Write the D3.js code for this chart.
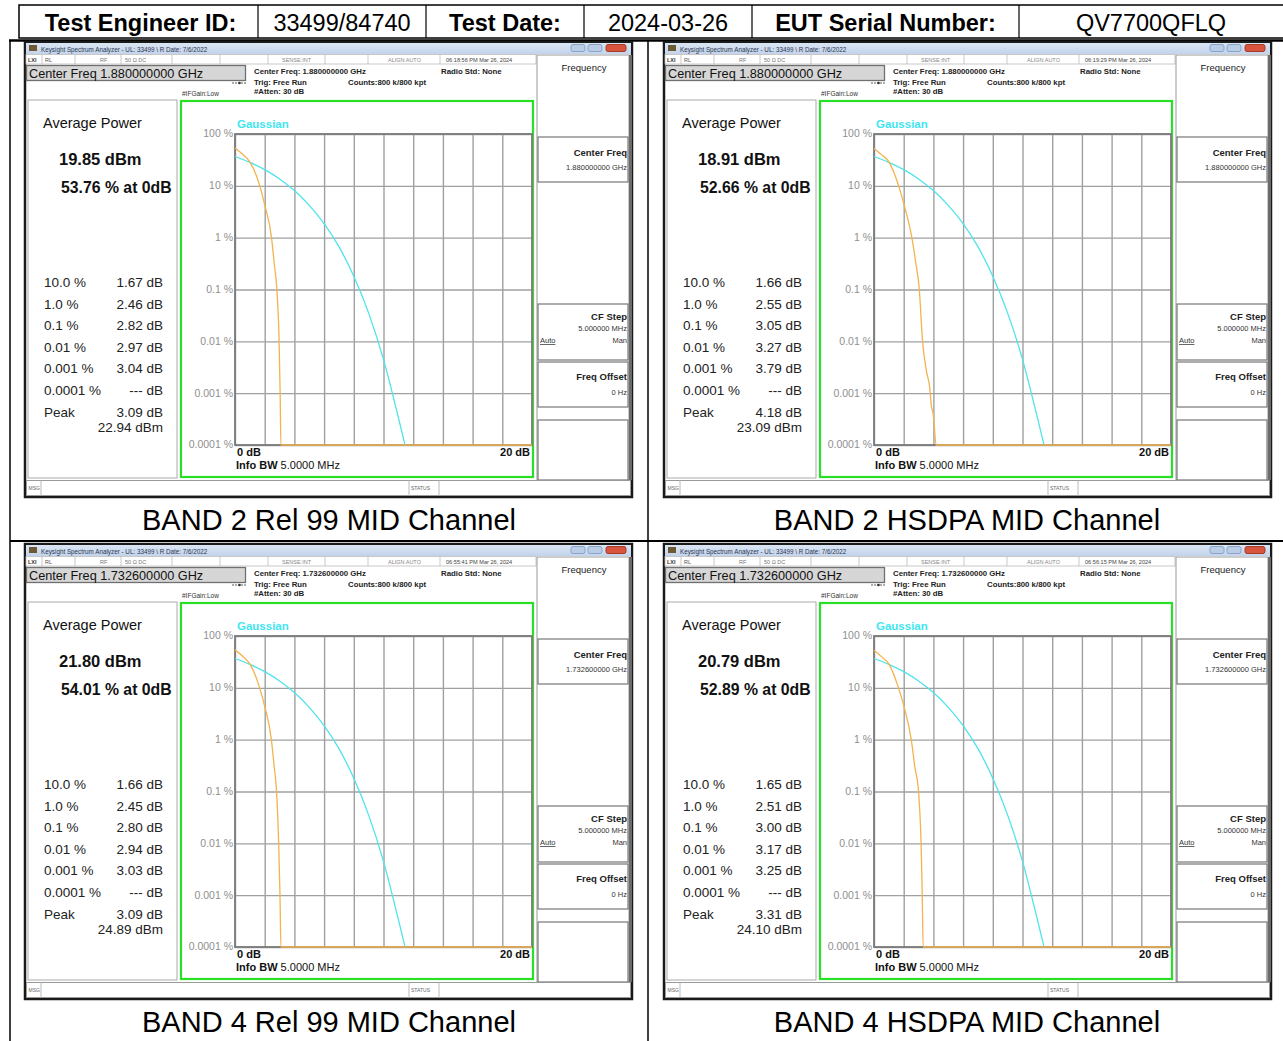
<!DOCTYPE html>
<meta charset="utf-8">

<!-- Load d3.js -->
<script src="https://d3js.org/d3.v7.min.js"></script>

<style>
body { margin: 0; background: #fff; }
svg text { font-family: Arial, "Liberation Sans", sans-serif; }
</style>

<div id="ccdf_report"></div>

<script>
// ---- data ----
var headerCells = ["Test Engineer ID:", "33499/84740", "Test Date:", "2024-03-26", "EUT Serial Number:", "QV7700QFLQ"];
var headerBold = [true, false, true, false, true, false];

var panelTitles = ["BAND 2 Rel 99 MID Channel", "BAND 2 HSDPA MID Channel", "BAND 4 Rel 99 MID Channel", "BAND 4 HSDPA MID Channel"];
var centerFreqs = ["1.880000000 GHz", "1.880000000 GHz", "1.732600000 GHz", "1.732600000 GHz"];
var timeStamps = ["06:18:56 PM Mar 26, 2024", "06:19:29 PM Mar 26, 2024", "06:55:41 PM Mar 26, 2024", "06:56:15 PM Mar 26, 2024"];
var avgPowerDbm = ["19.85", "18.91", "21.80", "20.79"];
var pctAt0dB = ["53.76", "52.66", "54.01", "52.89"];
var peakDb = ["3.09", "4.18", "3.09", "3.31"];
var peakDbm = ["22.94", "23.09", "24.89", "24.10"];

var probLabels = ["10.0 %", "1.0 %", "0.1 %", "0.01 %", "0.001 %", "0.0001 %"];
var probValues = [
  ["1.67", "2.46", "2.82", "2.97", "3.04", "---"],
  ["1.66", "2.55", "3.05", "3.27", "3.79", "---"],
  ["1.66", "2.45", "2.80", "2.94", "3.03", "---"],
  ["1.65", "2.51", "3.00", "3.17", "3.25", "---"]
];

var xTicks = [0, 2, 4, 6, 8, 10, 12, 14, 16, 18, 20];
var yTicks = [100, 10, 1, 0.1, 0.01, 0.001, 0.0001];
var yTickLabels = ["100 %", "10 %", "1 %", "0.1 %", "0.01 %", "0.001 %", "0.0001 %"];

// Gaussian reference trace (cyan): dB above average power, probability %
var gaussDb  = [0, 1, 2, 3, 4, 5, 6, 7, 8, 9, 10, 11, 11.45];
var gaussPct = [36.8, 28.4, 20.5, 13.6, 8.1, 4.2, 1.87, 0.67, 0.18, 0.035, 0.0045, 0.00034, 0.0001];

// measured CCDF traces (orange), one per panel
var traceDb = [
  [0, 0.5, 1.0, 1.67, 2.0, 2.46, 2.65, 2.82, 2.97, 3.04, 3.09, 20],
  [0, 0.5, 1.0, 1.66, 2.0, 2.55, 2.8, 3.05, 3.27, 3.5, 3.79, 3.85, 3.98, 4.05, 4.18, 20],
  [0, 0.5, 1.0, 1.66, 2.0, 2.45, 2.64, 2.80, 2.94, 3.03, 3.09, 20],
  [0, 0.5, 1.0, 1.65, 2.0, 2.51, 2.75, 3.00, 3.17, 3.25, 3.31, 20]
];
var tracePct = [
  [53.76, 41, 29, 10, 4.3, 1, 0.3, 0.1, 0.01, 0.001, 0.0001, 0.0001],
  [52.66, 40, 29, 10, 4.6, 1, 0.35, 0.1, 0.01, 0.003, 0.001, 0.0006, 0.0004, 0.00025, 0.0001, 0.0001],
  [54.01, 41, 29, 10, 4.4, 1, 0.3, 0.1, 0.01, 0.001, 0.0001, 0.0001],
  [52.89, 40, 29, 10, 4.6, 1, 0.3, 0.1, 0.01, 0.001, 0.0001, 0.0001]
];

// ---- layout ----
var W = 1283, H = 1041;
var svg = d3.select("#ccdf_report").append("svg")
    .attr("width", W)
    .attr("height", H);

var defs = svg.append("defs");
var grad = defs.append("linearGradient").attr("id", "titleGrad")
    .attr("x1", 0).attr("x2", 0).attr("y1", 0).attr("y2", 1);
grad.append("stop").attr("offset", "0%").attr("stop-color", "#dbe6f4");
grad.append("stop").attr("offset", "100%").attr("stop-color", "#c3d3ea");

// header row
var colX = [19, 258, 426, 584, 752, 1019, 1283];
svg.append("rect")
    .attr("x", 19).attr("y", 5).attr("width", 1270).attr("height", 33)
    .attr("fill", "none").attr("stroke", "#000").attr("stroke-width", 1.5);
svg.selectAll(".hdiv").data(colX.slice(1, 6)).enter().append("line")
    .attr("x1", d => d).attr("x2", d => d).attr("y1", 5).attr("y2", 38)
    .attr("stroke", "#000").attr("stroke-width", 1.2);
svg.selectAll(".htext").data(headerCells).enter().append("text")
    .attr("x", (d, i) => (colX[i] + colX[i + 1]) / 2 + (i == 0 ? 2 : 0))
    .attr("y", 31)
    .attr("text-anchor", "middle")
    .attr("font-size", 23.5)
    .attr("font-weight", (d, i) => headerBold[i] ? "bold" : "normal")
    .text(d => d);

// body table lines
svg.append("line").attr("x1", 9).attr("x2", W).attr("y1", 40.5).attr("y2", 40.5)
    .attr("stroke", "#000").attr("stroke-width", 2.5);
svg.append("line").attr("x1", 10).attr("x2", 10).attr("y1", 40).attr("y2", H)
    .attr("stroke", "#000").attr("stroke-width", 1.5);
svg.append("line").attr("x1", 648).attr("x2", 648).attr("y1", 40).attr("y2", H)
    .attr("stroke", "#000").attr("stroke-width", 1.5);
svg.append("line").attr("x1", 10).attr("x2", W).attr("y1", 541).attr("y2", 541)
    .attr("stroke", "#000").attr("stroke-width", 2);

var panelPos = [[25, 42], [664, 42], [25, 544], [664, 544]];
var captionPos = [[329, 530], [967, 530], [329, 1032], [967, 1032]];

svg.selectAll(".caption").data(panelTitles).enter().append("text")
    .attr("x", (d, i) => captionPos[i][0])
    .attr("y", (d, i) => captionPos[i][1])
    .attr("text-anchor", "middle")
    .attr("font-size", 29)
    .text(d => d);

panelTitles.forEach(function(t, i) { drawPanel(i); });

function txt(g, x, y, s, size, opts) {
  opts = opts || {};
  return g.append("text")
    .attr("x", x).attr("y", y)
    .attr("font-size", size)
    .attr("font-weight", opts.bold ? "bold" : "normal")
    .attr("text-anchor", opts.anchor || "start")
    .attr("fill", opts.fill || "#111")
    .text(s);
}

function drawPanel(i) {
  var g = svg.append("g")
      .attr("transform", "translate(" + panelPos[i][0] + "," + panelPos[i][1] + ")");

  // window frame
  g.append("rect").attr("x", 0).attr("y", 0).attr("width", 607).attr("height", 455)
      .attr("fill", "#fff").attr("stroke", "#1a1a1a").attr("stroke-width", 2.5);

  // title bar
  g.append("rect").attr("x", 1).attr("y", 1).attr("width", 605).attr("height", 11)
      .attr("fill", "url(#titleGrad)");
  g.append("rect").attr("x", 4).attr("y", 3).attr("width", 8).attr("height", 6).attr("fill", "#6d5a34");
  txt(g, 16, 9.5, "Keysight Spectrum Analyzer - UL: 33499 \\ R Date: 7/6/2022", 6.3, {fill: "#2a3550"});
  g.append("rect").attr("x", 546).attr("y", 2.5).attr("width", 14).attr("height", 7).attr("rx", 2)
      .attr("fill", "#b9cde6").attr("stroke", "#8aa3c6");
  g.append("rect").attr("x", 563).attr("y", 2.5).attr("width", 14).attr("height", 7).attr("rx", 2)
      .attr("fill", "#b9cde6").attr("stroke", "#8aa3c6");
  g.append("rect").attr("x", 581).attr("y", 2.5).attr("width", 20).attr("height", 7).attr("rx", 2)
      .attr("fill", "#d8543c").attr("stroke", "#a33a2a");

  // status row
  g.append("rect").attr("x", 1).attr("y", 12.5).attr("width", 510).attr("height", 9.5)
      .attr("fill", "#fff").attr("stroke", "#bbb").attr("stroke-width", 0.8);
  var seps = [17, 50, 96, 147, 195, 243, 300, 343, 415];
  g.selectAll(".sep").data(seps).enter().append("line")
      .attr("x1", d => d).attr("x2", d => d).attr("y1", 12.5).attr("y2", 22)
      .attr("stroke", "#bbb").attr("stroke-width", 0.8);
  txt(g, 3, 20, "LXI", 5.5, {bold: true, fill: "#333"});
  txt(g, 20, 20, "RL", 5.5, {fill: "#555"});
  txt(g, 75, 20, "RF", 5.5, {fill: "#777"});
  txt(g, 100, 20, "50 \u03A9   DC", 5.5, {fill: "#777"});
  txt(g, 257, 20, "SENSE:INT", 5.5, {fill: "#888"});
  txt(g, 363, 20, "ALIGN AUTO", 5.5, {fill: "#888"});
  txt(g, 421, 20, timeStamps[i], 5.6, {fill: "#444"});

  // center freq box and settings
  g.append("rect").attr("x", 1.5).attr("y", 23.5).attr("width", 219).attr("height", 15)
      .attr("fill", "#d6d6d6").attr("stroke", "#707070").attr("stroke-width", 1.3);
  txt(g, 4, 35.5, "Center Freq " + centerFreqs[i], 12.7, {fill: "#111"});
  txt(g, 229, 32, "Center Freq: " + centerFreqs[i], 7.8, {bold: true, fill: "#222"});
  txt(g, 229, 42.5, "Trig: Free Run", 7.8, {bold: true, fill: "#222"});
  txt(g, 229, 51.5, "#Atten: 30 dB", 7.8, {bold: true, fill: "#222"});
  txt(g, 323, 42.5, "Counts:800 k/800 kpt", 7.8, {bold: true, fill: "#222"});
  txt(g, 416, 32, "Radio Std: None", 7.8, {bold: true, fill: "#222"});
  txt(g, 157, 54, "#IFGain:Low", 6.5, {fill: "#333"});
  g.append("line").attr("x1", 207).attr("x2", 222).attr("y1", 41).attr("y2", 41)
      .attr("stroke", "#333").attr("stroke-width", 0.8).attr("stroke-dasharray", "2,1");
  g.append("circle").attr("cx", 214.5).attr("cy", 41).attr("r", 1.3).attr("fill", "#333");

  // left result box
  g.append("rect").attr("x", 3).attr("y", 58).attr("width", 149).attr("height", 378)
      .attr("fill", "#fff").attr("stroke", "#aaa").attr("stroke-width", 1);
  txt(g, 18, 86, "Average Power", 14.5, {fill: "#111"});
  txt(g, 34, 123, avgPowerDbm[i] + " dBm", 16.5, {bold: true});
  txt(g, 36, 151, pctAt0dB[i] + " % at 0dB", 15.8, {bold: true});
  probLabels.forEach(function(lab, k) {
    txt(g, 19, 245 + 21.6 * k, lab, 13.5, {fill: "#222"});
    txt(g, 138, 245 + 21.6 * k, probValues[i][k] + " dB", 13.5, {anchor: "end", fill: "#222"});
  });
  txt(g, 19, 374.5, "Peak", 13.5, {fill: "#222"});
  txt(g, 138, 374.5, peakDb[i] + " dB", 13.5, {anchor: "end", fill: "#222"});
  txt(g, 138, 390, peakDbm[i] + " dBm", 13.5, {anchor: "end", fill: "#222"});

  // softkey panel
  g.append("rect").attr("x", 512).attr("y", 13).attr("width", 92).attr("height", 425)
      .attr("fill", "#fff").attr("stroke", "#999").attr("stroke-width", 1);
  g.append("line").attr("x1", 605.5).attr("x2", 605.5).attr("y1", 13).attr("y2", 438)
      .attr("stroke", "#6b6b6b").attr("stroke-width", 3);
  txt(g, 559, 29, "Frequency", 9.5, {anchor: "middle", fill: "#222"});
  var keyBoxes = [[95, 45], [262, 56], [320, 45], [378, 60]];
  keyBoxes.forEach(function(b) {
    g.append("rect").attr("x", 513).attr("y", b[0]).attr("width", 90).attr("height", b[1])
        .attr("fill", "#fff").attr("stroke", "#777").attr("stroke-width", 1.2);
  });
  txt(g, 602, 114, "Center Freq", 9.5, {bold: true, anchor: "end", fill: "#222"});
  txt(g, 602, 128, centerFreqs[i], 7.5, {anchor: "end", fill: "#333"});
  txt(g, 602, 278, "CF Step", 9.5, {bold: true, anchor: "end", fill: "#222"});
  txt(g, 602, 289, "5.000000 MHz", 7.5, {anchor: "end", fill: "#333"});
  txt(g, 515, 301, "Auto", 7.5, {fill: "#333"}).attr("text-decoration", "underline");
  txt(g, 602, 301, "Man", 7.5, {anchor: "end", fill: "#333"});
  txt(g, 602, 338, "Freq Offset", 9.5, {bold: true, anchor: "end", fill: "#222"});
  txt(g, 602, 353, "0 Hz", 7.5, {anchor: "end", fill: "#333"});

  // MSG / STATUS bar
  g.append("rect").attr("x", 1.5).attr("y", 438.5).attr("width", 604).attr("height", 15)
      .attr("fill", "#fff").attr("stroke", "#999").attr("stroke-width", 1);
  g.append("line").attr("x1", 16).attr("x2", 16).attr("y1", 438.5).attr("y2", 453.5).attr("stroke", "#bbb");
  g.append("line").attr("x1", 384).attr("x2", 384).attr("y1", 438.5).attr("y2", 453.5).attr("stroke", "#bbb");
  g.append("line").attr("x1", 414).attr("x2", 414).attr("y1", 438.5).attr("y2", 453.5).attr("stroke", "#bbb");
  txt(g, 3.5, 448, "MSG", 5, {fill: "#666"});
  txt(g, 386, 448, "STATUS", 5, {fill: "#666"});

  // green graph frame
  g.append("rect").attr("x", 156).attr("y", 59).attr("width", 352).attr("height", 376)
      .attr("fill", "#fff").attr("stroke", "#27e027").attr("stroke-width", 2.2);

  // ---- CCDF plot ----
  var L = 210, R = 507, T = 92, B = 403;
  var x = d3.scaleLinear().domain([0, 20]).range([L, R]);
  var y = d3.scaleLog().domain([100, 0.0001]).range([T, B]);

  var gx = g.append("g")
      .attr("transform", "translate(0," + B + ")")
      .call(d3.axisBottom(x).tickValues(xTicks).tickSize(-(B - T)).tickFormat(""));
  gx.select(".domain").remove();
  gx.selectAll("line").attr("stroke", "#a0a0a0").attr("stroke-width", 1.4);

  var gy = g.append("g")
      .attr("transform", "translate(" + L + ",0)")
      .call(d3.axisLeft(y).tickValues(yTicks).tickSize(-(R - L)).tickPadding(2)
        .tickFormat((d, k) => yTickLabels[k]));
  gy.select(".domain").remove();
  gy.selectAll("line").attr("stroke", "#a0a0a0").attr("stroke-width", 1.4);
  gy.selectAll("text")
      .attr("font-size", 10.5)
      .attr("font-family", "Arial, 'Liberation Sans', sans-serif")
      .attr("fill", "#8f8f8f")
      .attr("dy", "0.28em");

  g.append("rect").attr("x", L).attr("y", T).attr("width", R - L).attr("height", B - T)
      .attr("fill", "none").attr("stroke", "#7a7a7a").attr("stroke-width", 1.8);

  var line = d3.line()
      .x(d => x(d[0]))
      .y(d => y(d[1]))
      .curve(d3.curveMonotoneX);

  g.append("path")
      .datum(gaussDb.map((v, k) => [v, gaussPct[k]]))
      .attr("d", line)
      .attr("fill", "none").attr("stroke", "#4fe3ec").attr("stroke-width", 1.3);

  g.append("path")
      .datum(traceDb[i].map((v, k) => [v, tracePct[i][k]]))
      .attr("d", line)
      .attr("fill", "none").attr("stroke", "#f5b24f").attr("stroke-width", 1.3);

  txt(g, 212, 86, "Gaussian", 11.5, {bold: true, fill: "#3fe6f0"});
  txt(g, 212, 414, "0 dB", 11, {bold: true, fill: "#111"});
  txt(g, 505, 414, "20 dB", 11, {bold: true, anchor: "end", fill: "#111"});
  var info = txt(g, 211, 426.5, "Info BW ", 11, {bold: true, fill: "#111"});
  info.append("tspan").attr("font-weight", "normal").text("5.0000 MHz");
}
</script>
